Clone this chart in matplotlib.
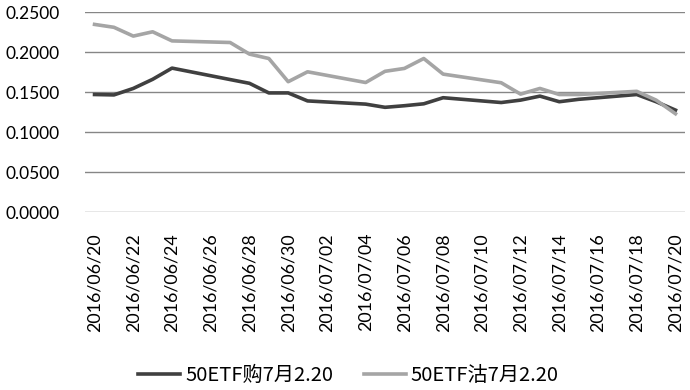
import matplotlib.pyplot as plt
import pandas as pd

plt.rcParams['font.family'] = ['Lato', 'Noto Sans CJK SC', 'DejaVu Sans']

# all calendar days shown on the axis
dates = pd.date_range('2016-06-20', '2016-07-20').strftime('%Y/%m/%d').tolist()

# trading days with data
trade_days = ['2016/06/20', '2016/06/21', '2016/06/22', '2016/06/23', '2016/06/24',
              '2016/06/27', '2016/06/28', '2016/06/29', '2016/06/30', '2016/07/01',
              '2016/07/04', '2016/07/05', '2016/07/06', '2016/07/07', '2016/07/08',
              '2016/07/11', '2016/07/12', '2016/07/13', '2016/07/14', '2016/07/15',
              '2016/07/18', '2016/07/19', '2016/07/20']

call_vals = [0.1470, 0.1465, 0.1546, 0.1660, 0.1800,
             0.1657, 0.1610, 0.1490, 0.1490, 0.1390,
             0.1350, 0.1310, 0.1330, 0.1354, 0.1430,
             0.1370, 0.1400, 0.1450, 0.1380, 0.1410,
             0.1470, 0.1380, 0.1275]

put_vals = [0.2346, 0.2310, 0.2200, 0.2254, 0.2140,
            0.2120, 0.1975, 0.1920, 0.1630, 0.1754,
            0.1620, 0.1760, 0.1796, 0.1920, 0.1725,
            0.1617, 0.1475, 0.1546, 0.1470, 0.1470,
            0.1510, 0.1400, 0.1230]

labels = ['50ETF购7月2.20', '50ETF沽7月2.20']

x = [dates.index(d) for d in trade_days]

fig = plt.figure(figsize=(6.9, 3.9), dpi=100)
ax = fig.add_axes([0.123, 0.456, 0.870, 0.513])

ax.plot(x, call_vals, color='#404040', linewidth=2.6, label=labels[0], zorder=3)
ax.plot(x, put_vals, color='#A5A5A5', linewidth=2.6, label=labels[1], zorder=3)

ax.set_xlim(-0.5, len(dates) - 0.5)
ax.set_ylim(0, 0.25)
ax.set_yticks([0, 0.05, 0.10, 0.15, 0.20, 0.25])
ax.set_yticklabels(['%.4f' % v for v in ax.get_yticks()], fontsize=12.5)
ax.set_xticks(range(0, len(dates), 2))
ax.set_xticklabels(dates[::2], rotation=90, fontsize=12.8)
ax.tick_params(axis='x', length=0, pad=15)
ax.tick_params(axis='y', length=0, pad=18)

ax.grid(axis='y', color='#868686', linewidth=1)
ax.set_axisbelow(True)
for s in ax.spines.values():
    s.set_visible(False)

fig.legend(loc='center', bbox_to_anchor=(0.505, 0.036), ncol=2, frameon=False,
           prop={'family': ['Noto Sans CJK SC'], 'size': 14.5},
           handlelength=2.1, handletextpad=0.25, columnspacing=1.5)

fig.savefig('out.png', dpi=100)
